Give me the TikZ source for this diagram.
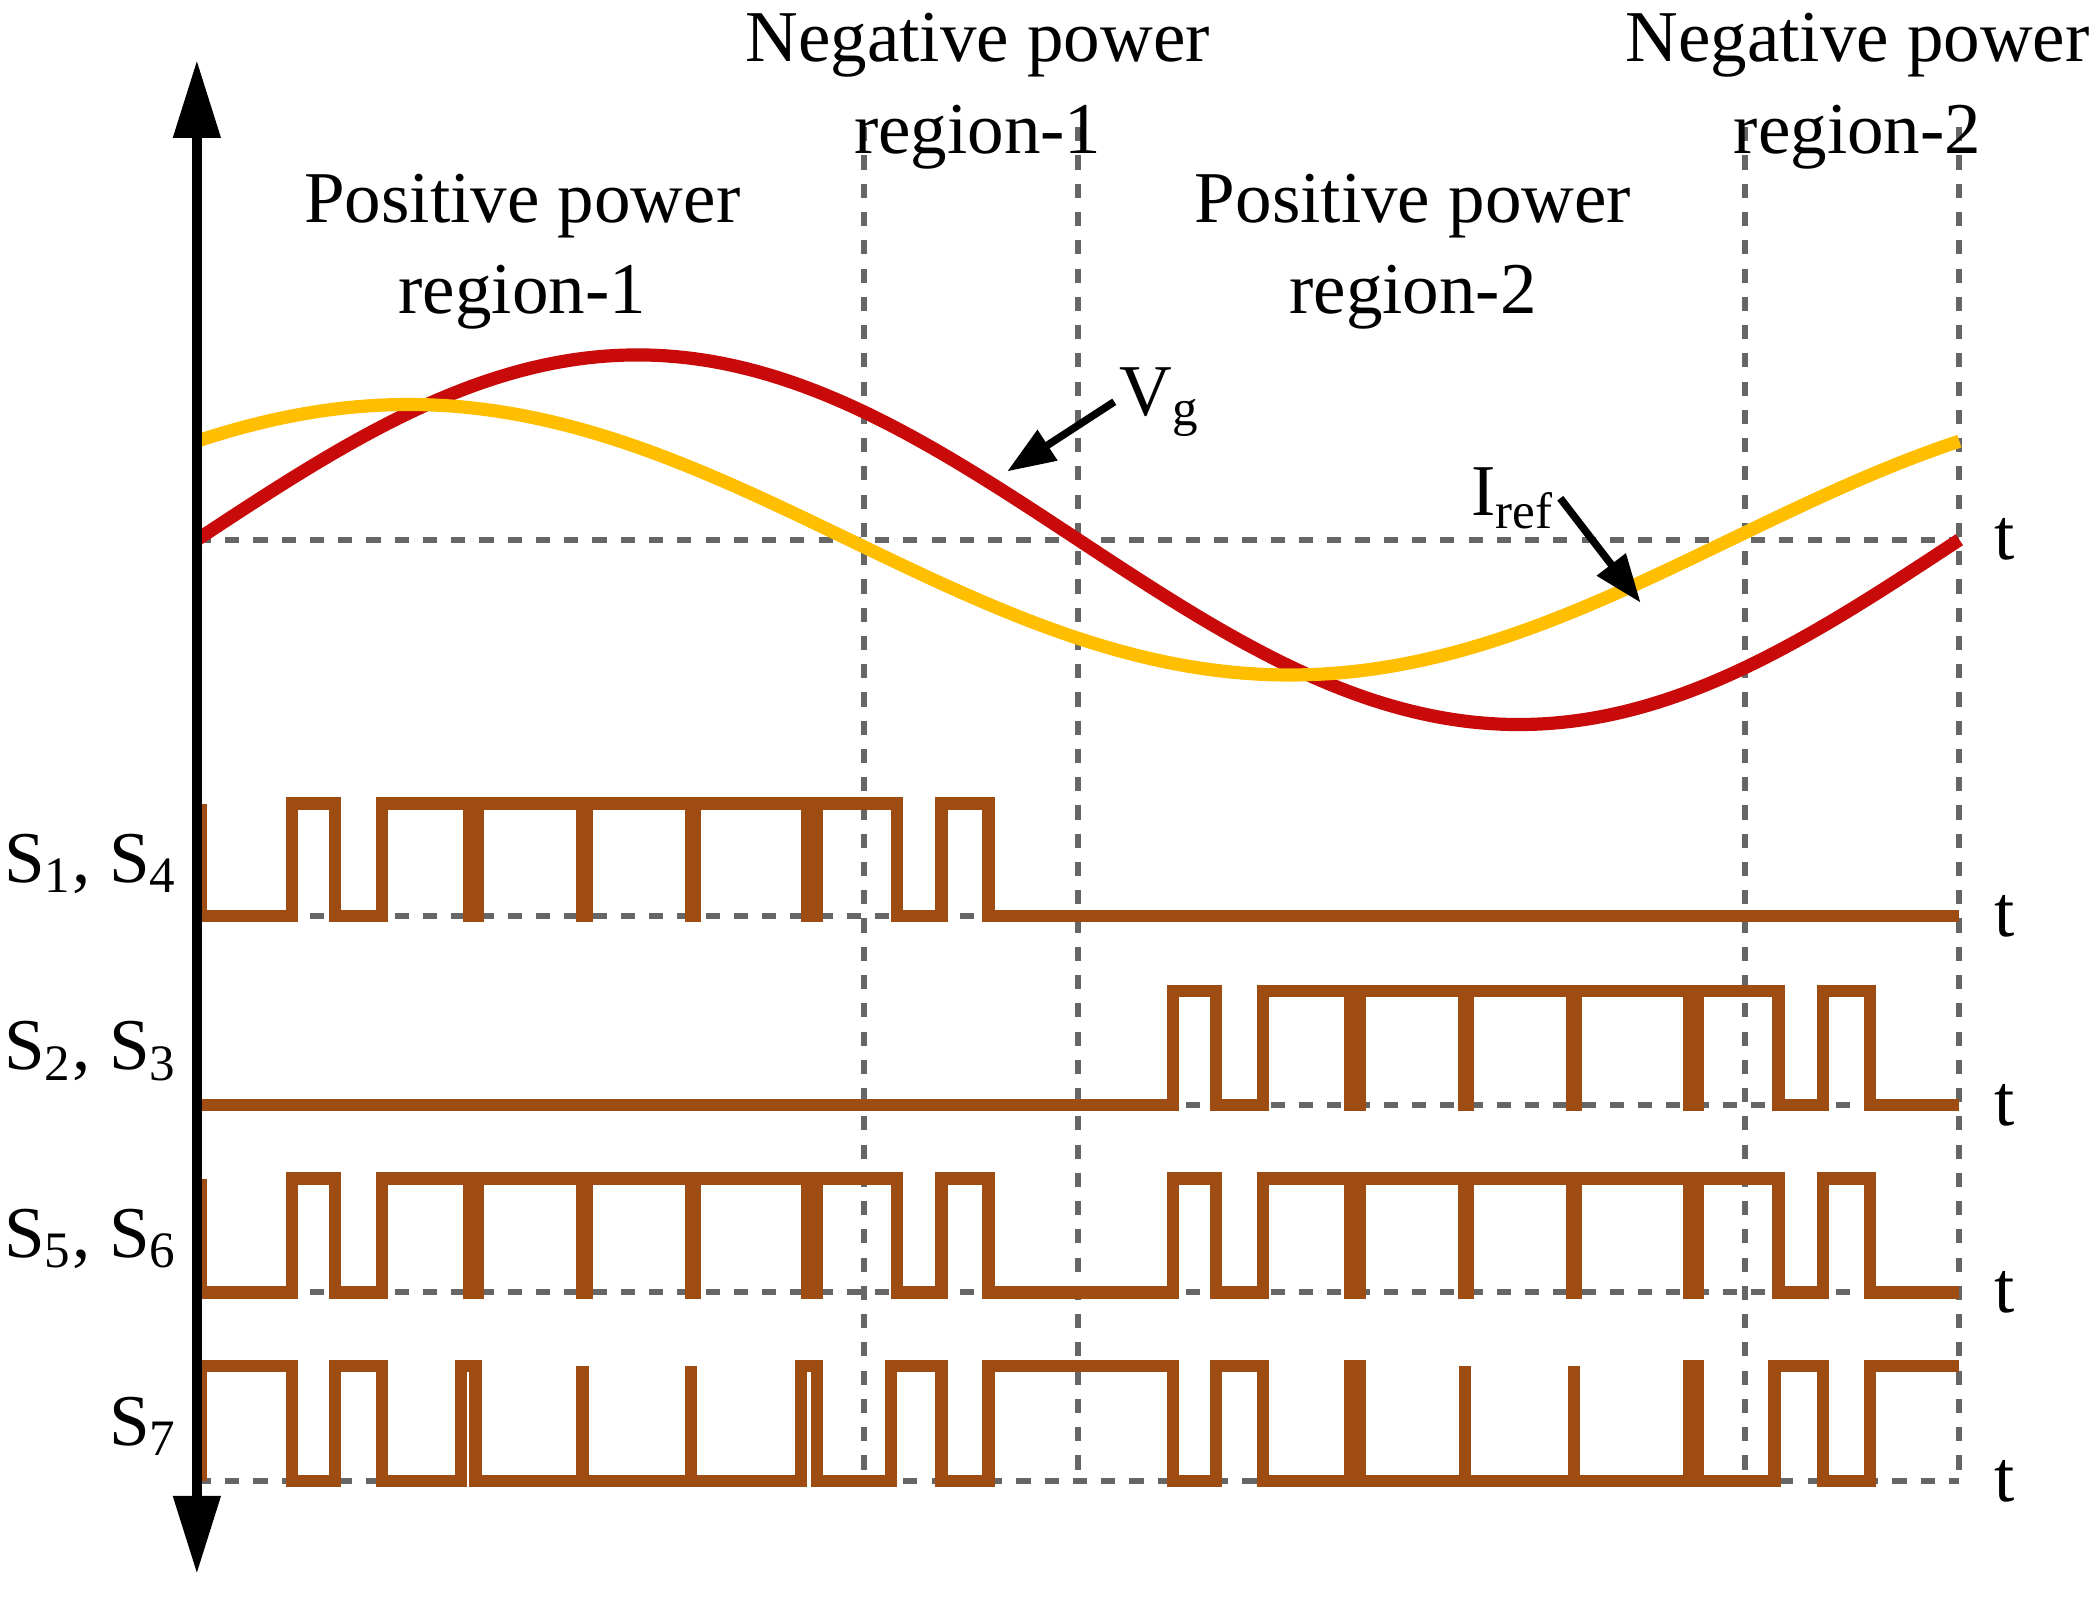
\documentclass[tikz,border=0pt]{standalone}
\usepackage{fontspec}
\setmainfont{Liberation Serif}
\usetikzlibrary{arrows.meta}
\definecolor{vred}{RGB}{200,10,10}
\definecolor{iyel}{RGB}{255,190,0}
\definecolor{pbr}{RGB}{158,76,18}
\begin{document}
\begin{tikzpicture}[x=0.01cm,y=-0.01cm,
  grid/.style={gray!80!black,line width=1.3pt,dash pattern=on 3pt off 3pt},
  pulse/.style={pbr,line width=2.6pt},
  lbl/.style={font=\fontsize{15.5}{18.5}\selectfont,align=center,inner sep=1pt},
  ptr/.style={-{Triangle[width=0.26cm,length=0.36cm]},line width=1.6pt}]
\useasboundingbox (0,0) rectangle (1568,1200);
% dashed grid
\foreach \x in {645,805,1303,1463} \draw[grid] (\x,95) -- (\x,1106);
\foreach \y/\n in {403/a,684/b,825/c,965/d,1106/e} {
  \draw[grid] (147,\y) -- (1463,\y);
  \node[lbl] (t\n) at (1497,\y) {t};
}
% curves
\draw[vred,line width=2.8pt] plot[domain=147:1463,samples=200] (\x,{403-138*sin((\x-147)/1316*360)});
\draw[iyel,line width=2.8pt] plot[domain=147:1463,samples=200] (\x,{403-101*sin((\x+24)/1316*360)});
% S1,S4
\draw[pulse] (150,600)--(150,684)--(218,684)--(218,600)--(250,600)--(250,684)--(285,684)--(285,600)--(350,600)--(350,684)--(357,684)--(357,600)--(435,600)--(435,684)--(438,684)--(438,600)--(516,600)--(516,684)--(519,684)--(519,600)--(603,600)--(603,684)--(610,684)--(610,600)--(670,600)--(670,684)--(703,684)--(703,600)--(738,600)--(738,684)--(1463,684);
% S2,S3
\draw[pulse] (147,825)--(876,825)--(876,740)--(908,740)--(908,825)--(943,825)--(943,740)--(1008,740)--(1008,825)--(1015,825)--(1015,740)--(1093,740)--(1093,825)--(1096,825)--(1096,740)--(1174,740)--(1174,825)--(1177,825)--(1177,740)--(1261,740)--(1261,825)--(1268,825)--(1268,740)--(1328,740)--(1328,825)--(1361,825)--(1361,740)--(1396,740)--(1396,825)--(1463,825);
% S5,S6
\draw[pulse] (150,880)--(150,965)--(218,965)--(218,880)--(250,880)--(250,965)--(285,965)--(285,880)--(350,880)--(350,965)--(357,965)--(357,880)--(435,880)--(435,965)--(438,965)--(438,880)--(516,880)--(516,965)--(519,965)--(519,880)--(603,880)--(603,965)--(610,965)--(610,880)--(670,880)--(670,965)--(703,965)--(703,880)--(738,880)--(738,965)--(876,965)--(876,880)--(908,880)--(908,965)--(943,965)--(943,880)--(1008,880)--(1008,965)--(1015,965)--(1015,880)--(1093,880)--(1093,965)--(1096,965)--(1096,880)--(1174,880)--(1174,965)--(1177,965)--(1177,880)--(1261,880)--(1261,965)--(1268,965)--(1268,880)--(1328,880)--(1328,965)--(1361,965)--(1361,880)--(1396,880)--(1396,965)--(1463,965);
% S7
\draw[pulse] (150,1106)--(150,1020)--(218,1020)--(218,1106)--(250,1106)--(250,1020)--(285,1020)--(285,1106)--(344,1106)--(344,1020)--(355,1020)--(355,1106)--(435,1106)--(435,1020)--(435,1106)--(516,1106)--(516,1020)--(516,1106)--(598,1106)--(598,1020)--(610,1020)--(610,1106)--(665,1106)--(665,1020)--(703,1020)--(703,1106)--(738,1106)--(738,1020)--(876,1020)--(876,1106)--(908,1106)--(908,1020)--(943,1020)--(943,1106)--(1008,1106)--(1008,1020)--(1015,1020)--(1015,1106)--(1094,1106)--(1094,1020)--(1094,1106)--(1175,1106)--(1175,1020)--(1175,1106)--(1261,1106)--(1261,1020)--(1268,1020)--(1268,1106)--(1325,1106)--(1325,1020)--(1361,1020)--(1361,1106)--(1396,1106)--(1396,1020)--(1463,1020);
% axis
\coordinate (axtop) at (147,45);
\coordinate (axbot) at (147,1175);
\draw[line width=2pt,{Triangle[width=0.34cm,length=0.58cm]}-{Triangle[width=0.34cm,length=0.58cm]}] (axtop) -- (axbot);
% region labels
\node[lbl] (pr1) at (390,188) {Positive power\\[1pt]region-1};
\node[lbl] (nr1) at (730,68) {Negative power\\[1pt]region-1};
\node[lbl] (pr2) at (1055,188) {Positive power\\[1pt]region-2};
\node[lbl] (nr2) at (1387,68) {Negative power\\[1pt]region-2};
% signal labels
\node[lbl,anchor=east] (s14) at (137,645) {S\textsubscript{1}, S\textsubscript{4}};
\node[lbl,anchor=east] (s23) at (137,785) {S\textsubscript{2}, S\textsubscript{3}};
\node[lbl,anchor=east] (s56) at (137,925) {S\textsubscript{5}, S\textsubscript{6}};
\node[lbl,anchor=east] (s7) at (137,1065) {S\textsubscript{7}};
% Vg, Iref
\node[lbl,anchor=west] (vg) at (832,300) {V\textsubscript{g}};
\coordinate (vgtip) at (752,352);
\draw[ptr] (vg.west) -- (vgtip);
\node[lbl,anchor=east] (iref) at (1165,372) {I\textsubscript{ref}};
\coordinate (ireftip) at (1225,450);
\draw[ptr] (iref.east) -- (ireftip);
\end{tikzpicture}
\end{document}
